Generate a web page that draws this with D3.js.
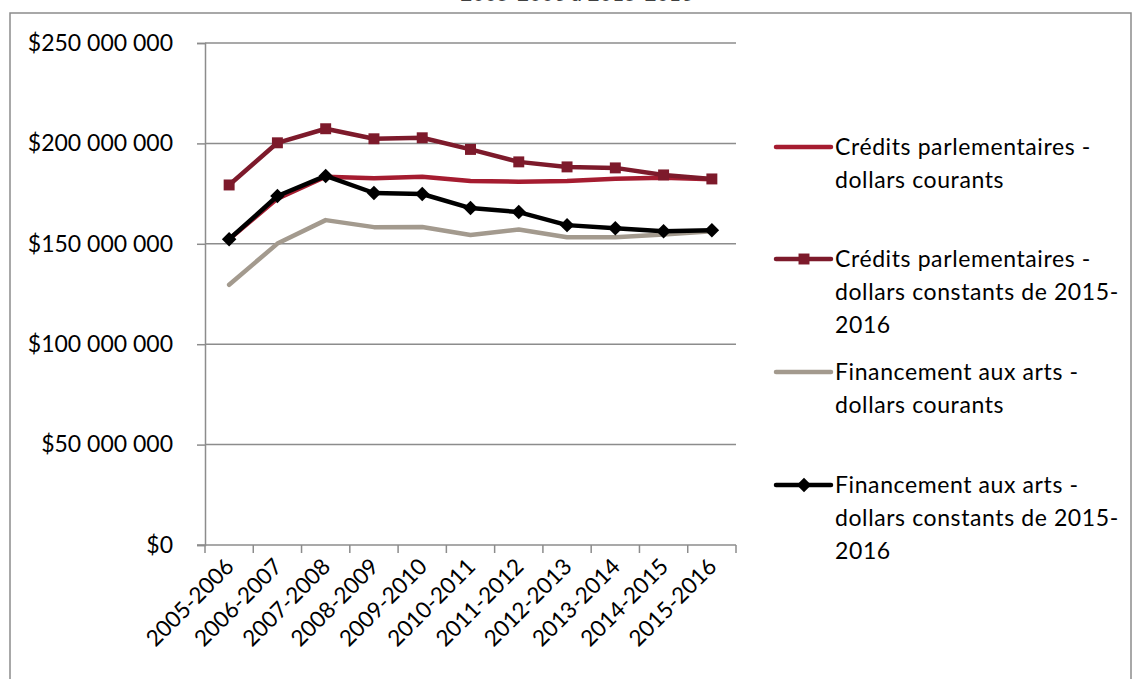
<!DOCTYPE html>
<html>
<head>
<meta charset="utf-8">
<script src="https://cdn.jsdelivr.net/npm/d3@7"></script>
<style>
  body { margin: 0; background: #fff; }
  svg { display: block; font-family: Lato, "Open Sans", sans-serif; }
</style>
</head>
<body>
<div id="chart"></div>
<script>
// categories (fiscal years)
const years = ['2005-2006', '2006-2007', '2007-2008', '2008-2009', '2009-2010', '2010-2011',
               '2011-2012', '2012-2013', '2013-2014', '2014-2015', '2015-2016'];

// values in millions of dollars
const creditsCourants   = [152.3, 172.5, 183.4, 182.6, 183.4, 181.3, 180.9, 181.3, 182.4, 182.9, 182.1];
const creditsConstants  = [179.3, 200.3, 207.3, 202.3, 202.8, 197.0, 190.8, 188.3, 187.8, 184.3, 182.3];
const artsCourants      = [129.6, 150.1, 161.8, 158.3, 158.4, 154.4, 157.1, 153.3, 153.3, 154.6, 156.3];
const artsConstants     = [152.3, 173.8, 183.8, 175.3, 174.8, 167.8, 165.8, 159.3, 157.8, 156.3, 156.8];

const yTicks = [0, 50e6, 100e6, 150e6, 200e6, 250e6];
const titleTail = '2005-2006 à 2015-2016';

const series = [
    { lines: ['Crédits parlementaires -', 'dollars courants'], values: creditsCourants, color: '#a51c30', marker: null },
    { lines: ['Crédits parlementaires -', 'dollars constants de 2015-', '2016'], values: creditsConstants, color: '#7d1a2b', marker: 'square' },
    { lines: ['Financement aux arts -', 'dollars courants'], values: artsCourants, color: '#a39a8e', marker: null },
    { lines: ['Financement aux arts -', 'dollars constants de 2015-', '2016'], values: artsConstants, color: '#000000', marker: 'diamond' }
];

const width = 1132, height = 679;
const margin = { top: 43, right: 396, bottom: 134, left: 205 };

const svg = d3.select('#chart').append('svg')
    .attr('width', width)
    .attr('height', height);

// outer chart frame (bottom runs off the page)
svg.append('path')
    .attr('d', 'M10,690 L10,13 L1131,13 L1131,690')
    .attr('fill', 'none')
    .attr('stroke', '#8c8c8c')
    .attr('stroke-width', 1.5);

// title, mostly cropped above the page
svg.append('text')
    .attr('x', 577)
    .attr('y', 0.5)
    .attr('text-anchor', 'middle')
    .attr('font-size', 20)
    .attr('font-weight', 'bold')
    .attr('letter-spacing', 0.6)
    .attr('fill', '#404040')
    .text(titleTail);

const x = d3.scaleBand()
    .domain(years)
    .range([margin.left, width - margin.right]);

const y = d3.scaleLinear()
    .domain([0, 250e6])
    .range([height - margin.bottom, margin.top]);

const locale = d3.formatLocale({ decimal: ',', thousands: ' ', grouping: [3], currency: ['$', ''] });
const fmt = locale.format('$,');

// gridlines
svg.append('g')
    .selectAll('line')
    .data(yTicks.slice(1))
    .enter()
    .append('line')
    .attr('x1', margin.left)
    .attr('x2', width - margin.right)
    .attr('y1', d => y(d))
    .attr('y2', d => y(d))
    .attr('stroke', '#8c8c8c')
    .attr('stroke-width', 1.5);

// y axis
const yAxis = svg.append('g')
    .attr('transform', `translate(${margin.left},0)`)
    .call(d3.axisLeft(y).tickValues(yTicks).tickFormat(fmt).tickSize(8).tickPadding(24));
yAxis.select('.domain').attr('stroke', '#8c8c8c').attr('stroke-width', 1.5);
yAxis.selectAll('.tick line').attr('stroke', '#8c8c8c').attr('stroke-width', 1.5);
yAxis.selectAll('.tick text')
    .attr('font-size', 23)
    .attr('font-family', 'Lato, "Open Sans", sans-serif')
    .attr('fill', '#000');

// x axis: ticks on band boundaries
const xBase = height - margin.bottom;
svg.append('line')
    .attr('x1', margin.left - 8)
    .attr('x2', width - margin.right)
    .attr('y1', xBase)
    .attr('y2', xBase)
    .attr('stroke', '#8c8c8c')
    .attr('stroke-width', 1.5);

const boundaries = years.map(d => x(d)).concat([x(years[years.length - 1]) + x.bandwidth()]);
svg.append('g')
    .selectAll('line')
    .data(boundaries)
    .enter()
    .append('line')
    .attr('x1', d => d)
    .attr('x2', d => d)
    .attr('y1', xBase)
    .attr('y2', xBase + 8)
    .attr('stroke', '#8c8c8c')
    .attr('stroke-width', 1.5);

svg.append('g')
    .selectAll('text')
    .data(years)
    .enter()
    .append('text')
    .attr('transform', d => `translate(${x(d) + x.bandwidth() / 2 - 5},${xBase + 12}) rotate(-45)`)
    .attr('text-anchor', 'end')
    .attr('dy', '0.7em')
    .attr('font-size', 22.5)
    .attr('fill', '#000')
    .text(d => d);

// markers: square, or square turned 45deg for the diamond
function markerPath(kind) {
    return d3.symbol().type(d3.symbolSquare).size(kind === 'square' ? 120 : 105)();
}
function markerRotate(kind) {
    return kind === 'diamond' ? ' rotate(45)' : '';
}

// series lines
const line = d3.line()
    .x((d, i) => x(years[i]) + x.bandwidth() / 2)
    .y(d => y(d * 1e6));

series.forEach(s => {
    svg.append('path')
        .datum(s.values)
        .attr('fill', 'none')
        .attr('stroke', s.color)
        .attr('stroke-width', 4.5)
        .attr('stroke-linejoin', 'round')
        .attr('stroke-linecap', 'round')
        .attr('d', line);

    if (s.marker) {
        svg.append('g')
            .selectAll('path')
            .data(s.values)
            .enter()
            .append('path')
            .attr('transform', (d, i) => `translate(${x(years[i]) + x.bandwidth() / 2},${y(d * 1e6)})${markerRotate(s.marker)}`)
            .attr('d', markerPath(s.marker))
            .attr('fill', s.color);
    }
});

// legend
const legendTop = [147, 259, 372, 485];
const legend = svg.append('g');
series.forEach((s, i) => {
    const g = legend.append('g').attr('transform', `translate(776,${legendTop[i]})`);
    g.append('line')
        .attr('x1', 0).attr('x2', 55)
        .attr('y1', 0).attr('y2', 0)
        .attr('stroke', s.color)
        .attr('stroke-width', 4.5)
        .attr('stroke-linecap', 'round');
    if (s.marker) {
        g.append('path')
            .attr('transform', 'translate(28,0)' + markerRotate(s.marker))
            .attr('d', markerPath(s.marker))
            .attr('fill', s.color);
    }
    s.lines.forEach((t, j) => {
        g.append('text')
            .attr('x', 59)
            .attr('y', j * 33)
            .attr('dy', '0.35em')
            .attr('font-size', 23)
            .attr('letter-spacing', 0.6)
            .attr('fill', '#000')
            .text(t);
    });
});
</script>
</body>
</html>
